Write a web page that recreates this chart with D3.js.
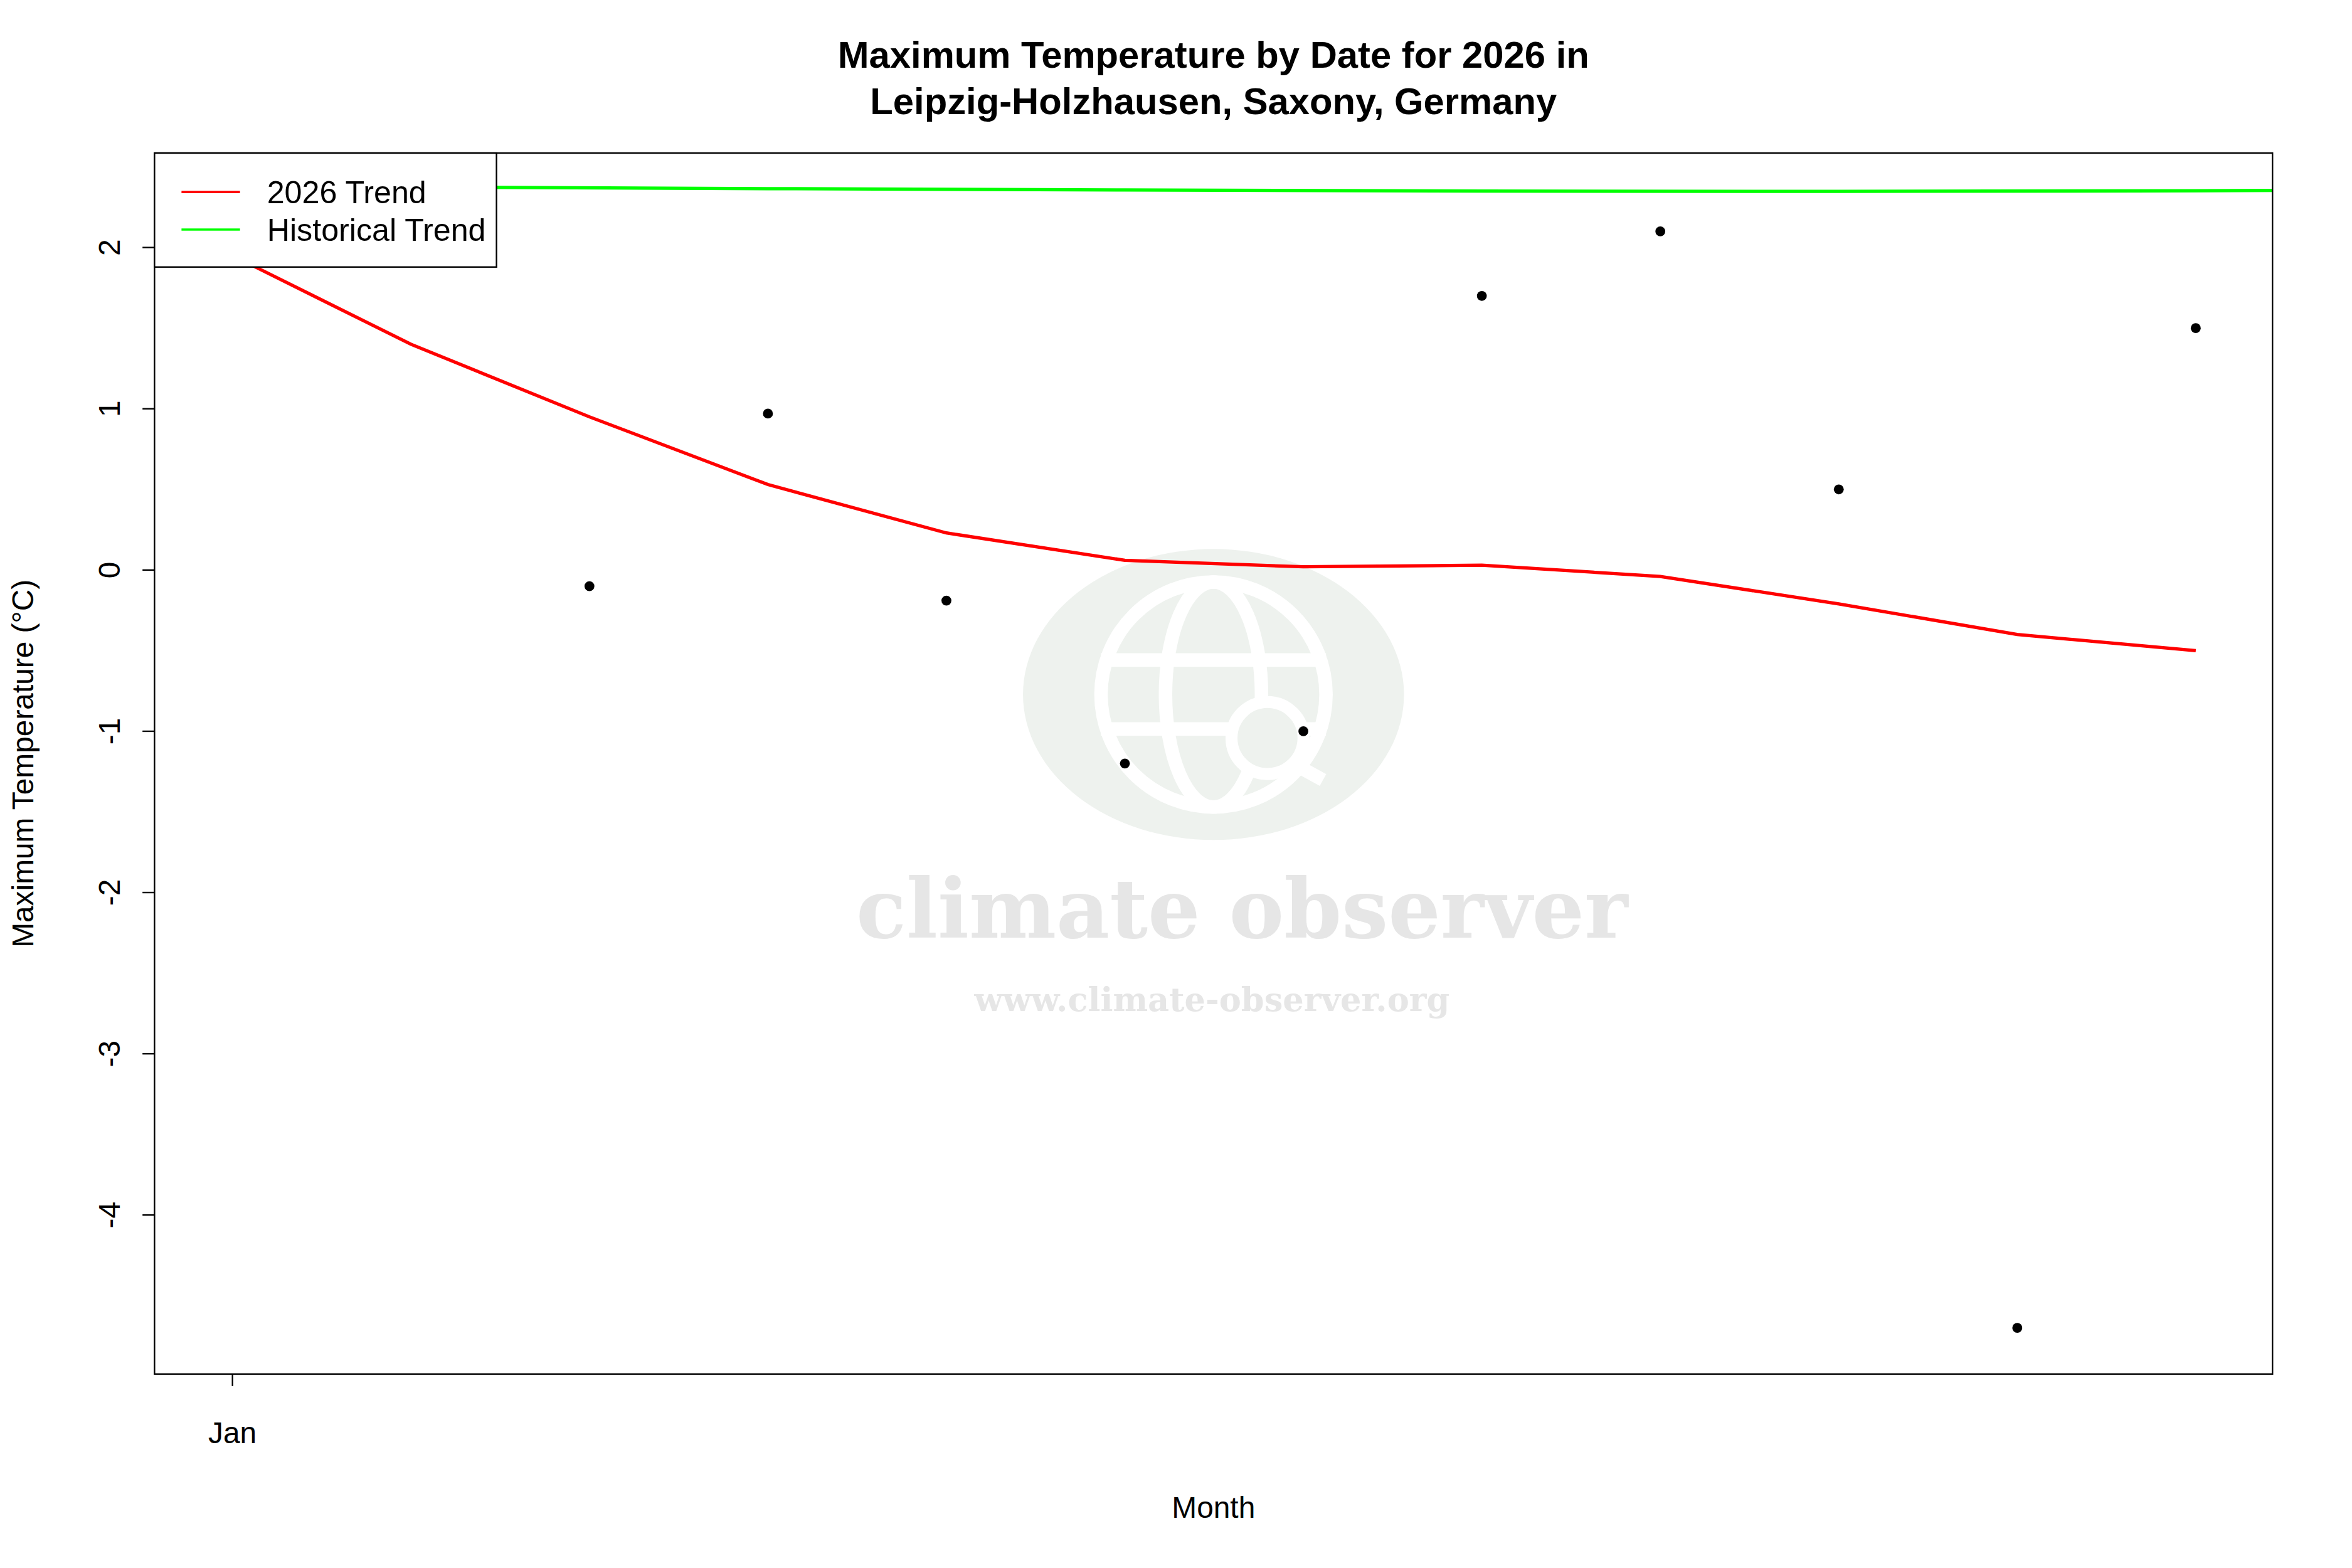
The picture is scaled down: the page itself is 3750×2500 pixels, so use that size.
<!DOCTYPE html>
<html><head><meta charset="utf-8">
<script src="https://cdn.jsdelivr.net/npm/d3@7"></script>
<style>body{margin:0;background:#fff}text{font-family:"Liberation Sans",Arial,sans-serif}</style>
</head><body>
<svg id="c" width="3750" height="2500" viewBox="0 0 1568 1045.3"></svg>
<script>
const pointDays=[3,4,5,6,7,8,9,10,11,12];
const pointVals=[-0.1,0.97,-0.19,-1.2,-1.0,1.7,2.1,0.5,-4.7,1.5];
const trendDays=[1,2,3,4,5,6,7,8,9,10,11,12];
const trendVals=[1.95,1.40,0.95,0.53,0.23,0.06,0.02,0.03,-0.04,-0.21,-0.40,-0.50];
const histDays=[0,2,4,6,8,10,12,13];
const histVals=[2.39,2.375,2.365,2.357,2.35,2.348,2.352,2.357];
const yTicks=[-4,-3,-2,-1,0,1,2];
const xTicks=[{d:1,l:"Jan"}];
const svg=d3.select("#c");
const L=103,R=1515,T=102,B=916;
const x=d3.scaleLinear().domain([0.563,12.43]).range([L,R]);
const y=d3.scaleLinear().domain([2.586,-4.986]).range([T,B]);
svg.append("defs").append("clipPath").attr("id","cp").append("rect").attr("x",L).attr("y",T).attr("width",R-L).attr("height",B-T);
// watermark
const wm=svg.append("g");
wm.append("ellipse").attr("cx",809).attr("cy",463).attr("rx",127).attr("ry",97).attr("fill","#eef2ee");
const g2=wm.append("g").attr("fill","none").attr("stroke","#fff").attr("stroke-width",9);
g2.append("circle").attr("cx",809).attr("cy",463).attr("r",75);
g2.append("ellipse").attr("cx",809).attr("cy",463).attr("rx",32).attr("ry",75);
g2.append("line").attr("x1",734).attr("x2",884).attr("y1",440).attr("y2",440);
g2.append("line").attr("x1",734).attr("x2",884).attr("y1",486).attr("y2",486);
wm.append("circle").attr("cx",845).attr("cy",492).attr("r",24).attr("fill","#eef2ee").attr("stroke","#fff").attr("stroke-width",8);
wm.append("line").attr("x1",862).attr("y1",509).attr("x2",882).attr("y2",520).attr("stroke","#fff").attr("stroke-width",9);
wm.append("text").attr("x",828).attr("y",625).attr("text-anchor","middle").attr("font-size",55).attr("font-weight","bold").attr("fill","#e6e6e6").style("font-family","DejaVu Serif").text("climate observer");
wm.append("text").attr("x",808).attr("y",674).attr("text-anchor","middle").attr("font-size",22).attr("font-weight","bold").attr("fill","#e6e6e6").style("font-family","DejaVu Serif").text("www.climate-observer.org");
// lines
const cg=svg.append("g").attr("clip-path","url(#cp)");
const line=d3.line().x(d=>x(d[0])).y(d=>y(d[1]));
cg.append("path").attr("d",line(histDays.map((d,i)=>[d,histVals[i]]))).attr("fill","none").attr("stroke","#00ff00").attr("stroke-width",2.2);
cg.append("path").attr("d",line(trendDays.map((d,i)=>[d,trendVals[i]]))).attr("fill","none").attr("stroke","#ff0000").attr("stroke-width",2.2);
cg.selectAll("circle.p").data(pointDays.map((d,i)=>[d,pointVals[i]])).enter().append("circle").attr("cx",d=>x(d[0])).attr("cy",d=>y(d[1])).attr("r",3.3).attr("fill","#000");
// box
svg.append("rect").attr("x",L).attr("y",T).attr("width",R-L).attr("height",B-T).attr("fill","none").attr("stroke","#000").attr("stroke-width",1);
// y axis
const ya=svg.append("g");
yTicks.forEach(t=>{
  ya.append("line").attr("x1",L).attr("x2",L-8).attr("y1",y(t)).attr("y2",y(t)).attr("stroke","#000");
  ya.append("text").attr("transform",`translate(${L-30},${y(t)}) rotate(-90)`).attr("text-anchor","middle").attr("dy","0.35em").attr("font-size",20).text(t);
});
xTicks.forEach(t=>{
  svg.append("line").attr("x1",x(t.d)).attr("x2",x(t.d)).attr("y1",B).attr("y2",B+8).attr("stroke","#000");
  svg.append("text").attr("x",x(t.d)).attr("y",962).attr("text-anchor","middle").attr("font-size",20).text(t.l);
});
svg.append("text").attr("x",809).attr("y",1012).attr("text-anchor","middle").attr("font-size",20).text("Month");
svg.append("text").attr("transform","translate(22,509) rotate(-90)").attr("text-anchor","middle").attr("font-size",20).text("Maximum Temperature (°C)");
svg.append("text").attr("x",809).attr("y",45).attr("text-anchor","middle").attr("font-size",25).attr("font-weight","bold").text("Maximum Temperature by Date for 2026 in");
svg.append("text").attr("x",809).attr("y",76).attr("text-anchor","middle").attr("font-size",25).attr("font-weight","bold").text("Leipzig-Holzhausen, Saxony, Germany");
// legend
const lg=svg.append("g");
lg.append("rect").attr("x",103).attr("y",102).attr("width",228).attr("height",76).attr("fill","#fff").attr("stroke","#000");
[["2026 Trend","#ff0000",128],["Historical Trend","#00ff00",153]].forEach(([t,c,yy])=>{
  lg.append("line").attr("x1",121).attr("x2",160).attr("y1",yy).attr("y2",yy).attr("stroke",c).attr("stroke-width",1.5);
  lg.append("text").attr("x",178).attr("y",yy).attr("dy","0.35em").attr("font-size",21).text(t);
});
</script></body></html>
